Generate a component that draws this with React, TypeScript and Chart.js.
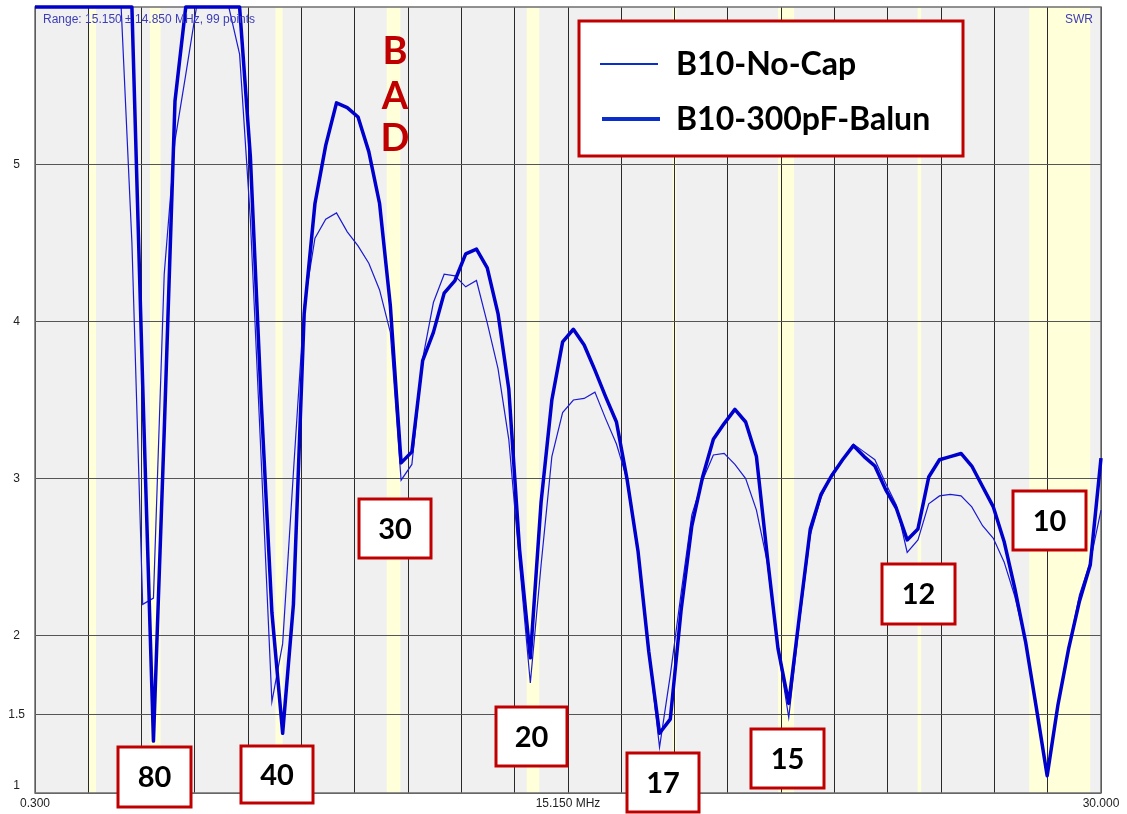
import { useEffect, useRef } from 'react';
import { Chart, registerables } from 'chart.js';

Chart.register(...registerables);

// Sweep: 0.3 MHz .. 30.0 MHz, 0.3 MHz step
const FREQ_START = 0.3;
const FREQ_STEP = 0.3;
const FREQ_MIN = 0.3;
const FREQ_MAX = 30.0;
const SWR_MIN = 1;
const SWR_MAX = 6;

const noCapSwr = [
  6, 6, 6, 6, 6, 6, 6, 6, 6, 4.5,
  2.2, 2.24, 4.3, 5.15, 5.57, 6, 6, 6, 6, 5.7,
  4.65, 3.13, 1.58, 1.95, 3.04, 4.1, 4.53, 4.65, 4.69, 4.57,
  4.48, 4.37, 4.2, 3.93, 2.99, 3.09, 3.76, 4.12, 4.3, 4.29,
  4.22, 4.26, 3.99, 3.7, 3.25, 2.46, 1.7, 2.45, 3.14, 3.42,
  3.5, 3.51, 3.55, 3.38, 3.22, 2.99, 2.54, 1.9, 1.29, 1.75,
  2.27, 2.77, 2.99, 3.15, 3.16, 3.09, 3.0, 2.8, 2.47, 1.92,
  1.48, 2.09, 2.64, 2.88, 3.03, 3.12, 3.22, 3.17, 3.12, 2.97,
  2.83, 2.53, 2.61, 2.84, 2.89, 2.9, 2.89, 2.82, 2.7, 2.62,
  2.47, 2.25, 1.96, 1.54, 1.11, 1.56, 1.92, 2.26, 2.47, 2.8,
];

const balunSwr = [
  6, 6, 6, 6, 6, 6, 6, 6, 6, 6,
  3.6, 1.33, 3.3, 5.4, 6, 6, 6, 6, 6, 6,
  5.05, 3.5, 2.15, 1.38, 2.2, 4.05, 4.75, 5.12, 5.39, 5.36,
  5.3, 5.08, 4.75, 4.1, 3.1, 3.17, 3.75, 3.93, 4.18, 4.26,
  4.43, 4.46, 4.34, 4.05, 3.57, 2.55, 1.86, 2.85, 3.5, 3.87,
  3.95, 3.85, 3.69, 3.52, 3.36, 2.99, 2.54, 1.9, 1.38, 1.47,
  2.16, 2.7, 3.01, 3.25, 3.35, 3.44, 3.36, 3.14, 2.51, 1.92,
  1.57, 2.13, 2.68, 2.9, 3.02, 3.12, 3.21, 3.14, 3.08, 2.93,
  2.81, 2.61, 2.68, 3.01, 3.12, 3.14, 3.16, 3.08, 2.95, 2.82,
  2.6, 2.3, 1.96, 1.54, 1.11, 1.56, 1.92, 2.22, 2.45, 3.13,
];

const freqs = noCapSwr.map((_, i) => FREQ_START + FREQ_STEP * i);

const yTickValues = [1, 1.5, 2, 3, 4, 5];
const xGridDivisions = 20;
const xTickLabels: Record<number, string> = { 0: '0.300', 10: '15.150 MHz', 20: '30.000' };

const hamBands: [number, number][] = [
  [1.8, 2.0], [3.5, 3.8], [7.0, 7.2], [10.1, 10.48], [14.0, 14.35],
  [18.068, 18.168], [21.0, 21.45], [24.89, 24.99], [28.0, 29.7],
];

const seriesNames = ['B10-No-Cap', 'B10-300pF-Balun'];
const bandLabelTexts = ['80', '40', '30', '20', '17', '15', '12', '10'];
const badLetters = ['B', 'A', 'D'];
const rangeText = 'Range: 15.150 ± 14.850 MHz, 99 points';
const unitText = 'SWR';

// layout (pixels on the canvas)
const W = 1127;
const H = 814;
const bandBoxes = [
  [118, 747, 191, 807], [241, 746, 313, 803], [359, 499, 431, 558], [496, 707, 567, 766],
  [627, 753, 699, 812], [751, 729, 824, 788], [882, 564, 955, 624], [1013, 491, 1086, 550],
];
const badPos = { x: 395, ys: [51, 96, 138] };
const legendBox = [579, 21, 963, 156];

const RED = '#C00000';
const THICK = '#0000CC';
const THIN = '#1a1ad2';
const AXIS_FONT = "'Liberation Sans', Arial, sans-serif";
const BOLD_FONT = "Lato, 'Open Sans', sans-serif";

const backgroundPlugin = {
  id: 'swrBackground',
  beforeDraw(chart: any) {
    const { ctx, chartArea, scales } = chart;
    const { left, right, top, bottom } = chartArea;
    ctx.save();
    ctx.fillStyle = '#FFFFFF';
    ctx.fillRect(0, 0, chart.width, chart.height);
    ctx.fillStyle = '#F0F0F0';
    ctx.fillRect(left, top, right - left, bottom - top);
    ctx.fillStyle = '#FFFFDA';
    hamBands.forEach(([a, b]) => {
      const xa = scales.x.getPixelForValue(a);
      const xb = scales.x.getPixelForValue(b);
      ctx.fillRect(xa, top, Math.max(2, xb - xa), bottom - top);
    });
    ctx.restore();
  },
  beforeDatasetsDraw(chart: any) {
    const { ctx, chartArea } = chart;
    const { left, right, top, bottom } = chartArea;
    ctx.save();
    ctx.strokeStyle = '#6e6e6e';
    ctx.lineWidth = 1.5;
    ctx.strokeRect(left, top, right - left, bottom - top);
    ctx.restore();
  },
};

const annotationPlugin = {
  id: 'swrAnnotations',
  afterDraw(chart: any) {
    const { ctx, scales, chartArea } = chart;
    ctx.save();

    // header texts inside plot
    ctx.font = `12px ${AXIS_FONT}`;
    ctx.fillStyle = '#3c3cb8';
    ctx.textBaseline = 'middle';
    ctx.textAlign = 'left';
    ctx.fillText(rangeText, chartArea.left + 8, 19.5);
    ctx.textAlign = 'right';
    ctx.fillText(unitText, chartArea.right - 8, 19.5);

    // bottom y label "1" (drawn raised, as in the original)
    ctx.font = `12px ${AXIS_FONT}`;
    ctx.fillStyle = '#222';
    ctx.textAlign = 'center';
    ctx.fillText(String(yTickValues[0]), 16.5, scales.y.getPixelForValue(yTickValues[0]) - 7);

    // legend
    const [lx1, ly1, lx2, ly2] = legendBox;
    ctx.fillStyle = '#FFFFFF';
    ctx.fillRect(lx1, ly1, lx2 - lx1, ly2 - ly1);
    ctx.strokeStyle = RED;
    ctx.lineWidth = 3;
    ctx.strokeRect(lx1, ly1, lx2 - lx1, ly2 - ly1);
    const legendRows = [
      { name: seriesNames[0], y: 64, width: 2, x1: 600, x2: 658, tw: 184 },
      { name: seriesNames[1], y: 119, width: 4, x1: 602, x2: 660, tw: 264 },
    ];
    legendRows.forEach((r) => {
      ctx.strokeStyle = '#0a2ecc';
      ctx.lineWidth = r.width;
      ctx.beginPath();
      ctx.moveTo(r.x1, r.y);
      ctx.lineTo(r.x2, r.y);
      ctx.stroke();
      ctx.font = `bold 32px ${BOLD_FONT}`;
      ctx.fillStyle = '#000';
      ctx.textAlign = 'left';
      ctx.textBaseline = 'middle';
      ctx.fillText(r.name, 676, r.y + 1, r.tw);
    });

    // BAD
    ctx.font = `bold 38px ${BOLD_FONT}`;
    ctx.fillStyle = RED;
    ctx.textAlign = 'center';
    ctx.textBaseline = 'middle';
    badLetters.forEach((ch, i) => ctx.fillText(ch, badPos.x, badPos.ys[i] + 1));

    // band labels
    bandLabelTexts.forEach((t, i) => {
      const [x1, y1, x2, y2] = bandBoxes[i];
      ctx.fillStyle = '#FFFFFF';
      ctx.fillRect(x1, y1, x2 - x1, y2 - y1);
      ctx.strokeStyle = RED;
      ctx.lineWidth = 3;
      ctx.strokeRect(x1, y1, x2 - x1, y2 - y1);
      ctx.font = `bold 29px ${BOLD_FONT}`;
      ctx.fillStyle = '#000';
      ctx.textAlign = 'center';
      ctx.textBaseline = 'middle';
      ctx.fillText(t, (x1 + x2) / 2, (y1 + y2) / 2 + 1);
    });

    ctx.restore();
  },
};

export default function App() {
  const canvasRef = useRef<HTMLCanvasElement | null>(null);

  useEffect(() => {
    const canvas = canvasRef.current;
    if (!canvas) return;
    const xGrid = Array.from({ length: xGridDivisions + 1 }, (_, k) => FREQ_MIN + ((FREQ_MAX - FREQ_MIN) * k) / xGridDivisions);

    const chart = new Chart(canvas, {
      type: 'line',
      data: {
        datasets: [
          {
            label: seriesNames[1],
            data: freqs.map((f, i) => ({ x: f, y: balunSwr[i] })),
            borderColor: THICK,
            backgroundColor: THICK,
            borderWidth: 3.5,
            pointRadius: 0,
            tension: 0,
            order: 0,
            clip: 6,
            borderJoinStyle: 'round',
          },
          {
            label: seriesNames[0],
            data: freqs.map((f, i) => ({ x: f, y: noCapSwr[i] })),
            borderColor: THIN,
            backgroundColor: THIN,
            borderWidth: 1.2,
            pointRadius: 0,
            tension: 0,
            order: 1,
            clip: 6,
          },
        ],
      },
      options: {
        animation: false,
        responsive: false,
        events: [],
        layout: { padding: { left: 0, right: 26, top: 7, bottom: 0 } },
        plugins: { legend: { display: false }, tooltip: { enabled: false } },
        scales: {
          x: {
            type: 'linear',
            min: FREQ_MIN,
            max: FREQ_MAX,
            afterBuildTicks: (s: any) => {
              s.ticks = xGrid.map((v) => ({ value: v }));
            },
            afterFit: (s: any) => {
              s.height = 21;
              s.paddingLeft = 0;
              s.paddingRight = 0;
            },
            ticks: {
              autoSkip: false,
              maxRotation: 0,
              minRotation: 0,
              padding: 3,
              color: '#222',
              font: { family: AXIS_FONT, size: 12 },
              callback: (_v: any, idx: number) => xTickLabels[idx] ?? '',
            },
            grid: { color: '#2a2a2a', lineWidth: 1, drawTicks: false },
            border: { display: false },
          },
          y: {
            type: 'linear',
            min: SWR_MIN,
            max: SWR_MAX,
            afterBuildTicks: (s: any) => {
              s.ticks = yTickValues.map((v) => ({ value: v }));
            },
            afterFit: (s: any) => {
              s.width = 35;
              s.paddingTop = 0;
              s.paddingBottom = 0;
            },
            ticks: {
              padding: 10,
              crossAlign: 'center',
              color: '#222',
              font: { family: AXIS_FONT, size: 12 },
              callback: (v: any) => (v === yTickValues[0] ? '' : String(v)),
            },
            grid: { color: '#555555', lineWidth: 1, drawTicks: false },
            border: { display: false },
          },
        },
      } as any,
      plugins: [backgroundPlugin, annotationPlugin],
    });

    return () => chart.destroy();
  }, []);

  return (
    <div style={{ position: 'absolute', left: 0, top: 0, width: W, height: H, background: '#fff' }}>
      <canvas ref={canvasRef} width={W} height={H} style={{ display: 'block', width: W, height: H }} />
    </div>
  );
}
